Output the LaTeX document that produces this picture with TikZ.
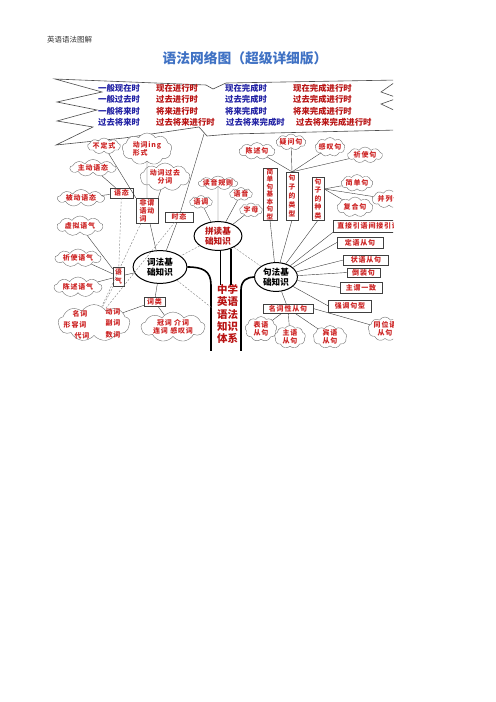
\documentclass[tikz,border=0pt]{standalone}
\usepackage{fontspec}
\usetikzlibrary{shapes.symbols,shapes.geometric,calc}
\newfontfamily\cjk{Noto Sans CJK SC}
\newfontfamily\cjksp{Noto Sans CJK SC}[LetterSpace=12]
\definecolor{lred}{RGB}{205,35,35}
\definecolor{tblue}{RGB}{35,35,165}
\definecolor{tred}{RGB}{185,20,20}
\definecolor{ttl}{RGB}{64,114,196}
\definecolor{lnc}{RGB}{60,60,60}
\tikzset{
  lbl/.style={font=\cjksp\bfseries\fontsize{7}{8.5}\selectfont, text=lred},
  cl/.style={cloud, cloud puffs=9, cloud puff arc=115, cloud ignores aspect, draw=black!55, line width=0.4pt, fill=white, inner sep=-1pt, lbl, align=center},
  bx/.style={rectangle, draw=black!75, line width=0.5pt, fill=white, inner sep=0pt, lbl, align=center},
  vbx/.style={bx, font=\cjk\bfseries\fontsize{6.6}{7.5}\selectfont},
  el/.style={ellipse, draw=black, line width=1pt, fill=white, inner sep=0pt, align=center, font=\cjk\bfseries\fontsize{8.6}{10}\selectfont},
  conn/.style={draw=lnc, line width=0.4pt},
  dconn/.style={draw=black!50, line width=0.4pt, dash pattern=on 2pt off 1.5pt},
  trunk/.style={draw=black, line width=1.6pt},
  tense/.style={anchor=west, inner sep=0pt, font=\cjk\bfseries\fontsize{8.4}{9}\selectfont},
  wd/.style={lbl, inner sep=0pt},
}
\begin{document}
\begin{tikzpicture}[x=1bp,y=-1bp]
\path[use as bounding box] (0,0) rectangle (496,702);
\node[anchor=west, inner sep=0pt, font=\cjk\fontsize{7.5}{8}\selectfont, text=black!80] (hdr) at (47,40) {英语语法图解};
\node[inner sep=0pt, font=\cjk\bfseries\fontsize{13.8}{15}\selectfont, text=ttl] (ttlnode) at (245,58) {语法网络图（超级详细版）};

\begin{scope}
\clip (52,74) rectangle (393,350);
% tense banner
\draw[black!70, line width=0.6pt, fill=white] (55,79) -- (206,85) -- (213,89) -- (226,83) -- (398,80) -- (381,92) -- (398,98) -- (381,104) -- (398,112) -- (398,130) -- (231,134) -- (207,136) -- (199,127) -- (124,138) -- (56,145) -- (93,127) -- (57,121) -- (97,110) -- (57,102) -- (102,92) -- cycle;
\coordinate (spike) at (204,134);
% tense texts
\node[tense, text=tblue] (t11) at (98,88) {一般现在时};
\node[tense, text=tblue] (t21) at (98,99.5) {一般过去时};
\node[tense, text=tblue] (t31) at (98,111) {一般将来时};
\node[tense, text=tblue] (t41) at (98,122.5) {过去将来时};
\node[tense, text=tred] (t12) at (156,88) {现在进行时};
\node[tense, text=tred] (t22) at (156,99.5) {过去进行时};
\node[tense, text=tred] (t32) at (156,111) {将来进行时};
\node[tense, text=tred] (t42) at (156,122.5) {过去将来进行时};
\node[tense, text=tblue] (t13) at (225,88) {现在完成时};
\node[tense, text=tblue] (t23) at (225,99.5) {过去完成时};
\node[tense, text=tblue] (t33) at (225,111) {将来完成时};
\node[tense, text=tblue] (t43) at (226,122.5) {过去将来完成时};
\node[tense, text=tred] (t14) at (293,88) {现在完成进行时};
\node[tense, text=tred] (t24) at (293,99.5) {过去完成进行时};
\node[tense, text=tred] (t34) at (293,111) {将来完成进行时};
\node[tense, text=tred] (t44) at (296,122.5) {过去将来完成进行时};

% trunk
\coordinate (lbot) at (211,352);
\coordinate (rbot) at (241,352);
\coordinate (ztop) at (227,285);

% left clouds
\node[cl, minimum width=33, minimum height=16] (c1) at (104,146) {不定式};
\node[cl, minimum width=50, minimum height=32, align=left] (c2) at (147,149) {动词ing\\形式};
\node[cl, minimum width=46, minimum height=17] (c3) at (93,168) {主动语态};
\node[cl, minimum width=50, minimum height=28] (c4) at (165,177) {动词过去\\分词};
\node[cl, minimum width=47, minimum height=17] (c5) at (81,198) {被动语态};
\node[cl, minimum width=46, minimum height=20] (c6) at (80,226) {虚拟语气};
\node[cl, minimum width=46, minimum height=18] (c7) at (78,258) {祈使语气};
\node[cl, minimum width=48, minimum height=20] (c8) at (78,287) {陈述语气};
\node[cl, minimum width=72, minimum height=37] (cw) at (94,323) {};
\node[wd] (w1) at (80,314) {名词};
\node[wd] (w2) at (113,312) {动词};
\node[wd] (w3) at (75,325) {形容词};
\node[wd] (w4) at (113,323) {副词};
\node[wd] (w5) at (82,336) {代词};
\node[wd] (w6) at (113,335) {数词};
\node[cl, minimum width=64, minimum height=30] (cw2) at (173,327) {冠词 介词\\连词 感叹词};

% left boxes
\node[bx, minimum width=23, minimum height=10] (byt) at (121.5,193) {语态};
\node[bx, minimum width=22, minimum height=25, align=left, font=\cjksp\bfseries\fontsize{7}{8}\selectfont] (bfw) at (147,210.5) {非谓\\语动\\词};
\node[bx, minimum width=28, minimum height=10] (bst) at (179,217) {时态};
\node[bx, minimum width=11, minimum height=19, font=\cjk\bfseries\fontsize{6.8}{8.5}\selectfont] (byq) at (118.5,276.5) {语\\气};
\node[bx, minimum width=21, minimum height=9] (bcl) at (154.5,301.5) {词类};

% ellipses
\node[el, minimum width=54, minimum height=33] (ecf) at (160,267) {词法基\\础知识};
\node[el, minimum width=48, minimum height=29, text=tred] (epd) at (218,236) {拼读基\\础知识};
\node[el, minimum width=43, minimum height=29] (ejf) at (276,277) {句法基\\础知识};

% middle clouds
\node[cl, minimum width=38, minimum height=14] (m1) at (218,183) {读音规则};
\node[cl, minimum width=23, minimum height=13] (m2) at (241,194) {语音};
\node[cl, minimum width=23, minimum height=13] (m3) at (201,202) {语调};
\node[cl, minimum width=23, minimum height=14] (m4) at (251,210) {字母};

% right clouds
\node[cl, minimum width=36, minimum height=17] (r1) at (257,151) {陈述句};
\node[cl, minimum width=30, minimum height=16] (r2) at (291,142) {疑问句};
\node[cl, minimum width=30, minimum height=19] (r3) at (330,147) {感叹句};
\node[cl, minimum width=35, minimum height=16] (r4) at (365,155) {祈使句};
\node[cl, minimum width=32, minimum height=17] (r5) at (357,183) {简单句};
\node[cl, minimum width=34, minimum height=18] (r6) at (389,199) {并列句};
\node[cl, minimum width=36, minimum height=20] (r7) at (355,207) {复合句};

% right boxes
\node[vbx, minimum width=14, minimum height=52] (v1) at (270,194) {简\\单\\句\\基\\本\\句\\型};
\node[vbx, minimum width=12, minimum height=48, font=\cjk\bfseries\fontsize{6.8}{9}\selectfont] (v2) at (292,196) {句\\子\\的\\类\\型};
\node[vbx, minimum width=12, minimum height=43, font=\cjk\bfseries\fontsize{6.8}{8.5}\selectfont] (v3) at (318,198.5) {句\\子\\的\\种\\类};
\node[bx, minimum width=70, minimum height=12, anchor=west] (b1) at (333,226) {直接引语间接引语};
\node[bx, minimum width=46, minimum height=11] (b2) at (360,242.5) {定语从句};
\node[bx, minimum width=45, minimum height=10] (b3) at (366,260) {状语从句};
\node[bx, minimum width=33, minimum height=9] (b4) at (363.5,272.5) {倒装句};
\node[bx, minimum width=42, minimum height=11] (b5) at (361,287.5) {主谓一致};
\node[bx, minimum width=43, minimum height=12] (b6) at (350,306) {强调句型};
\node[bx, minimum width=50, minimum height=9] (b7) at (288,308.5) {名词性从句};

% bottom clouds
\node[cl, minimum width=32, minimum height=25] (n1) at (261,329) {表语\\从句};
\node[cl, minimum width=31, minimum height=23] (n2) at (290,337) {主语\\从句};
\node[cl, minimum width=34, minimum height=23] (n3) at (330,337) {宾语\\从句};
\node[cl, minimum width=34, minimum height=24] (n4) at (385,329) {同位语\\从句};

% centre text
\node[inner sep=0pt, align=center, text=tred, font=\cjk\bfseries\fontsize{10.5}{12.2}\selectfont] (zx) at (227.5,314) {中学\\英语\\语法\\知识\\体系};

% trunk lines
\draw[trunk] (ecf.east) .. controls (203,267) and (211,271) .. (211,285) -- (lbot);
\draw[trunk] (ejf.west) .. controls (248,277) and (241,280) .. (241,290) -- (rbot);
\draw[trunk] (epd.-80) -- (epd.-80 |- ztop);
\draw[trunk] (epd.-45) -- (epd.-45 |- ztop);

% solid connectors
\draw[conn] (spike) -- (bst);
\draw[conn] (c1) -- (bfw.north west);
\draw[conn] (c2) -- (bfw.north);
\draw[conn] (c4) -- (bfw.north east);
\draw[conn] (c3) -- (byt);
\draw[conn] (c5) -- (byt);
\draw[conn] (c6) -- (byq);
\draw[conn] (c7) -- (byq);
\draw[conn] (c8) -- (byq);
\draw[conn] (ecf) -- (byq);
\draw[conn] (ecf) -- (bfw);
\draw[conn] (ecf) -- (bst);
\draw[conn] (ecf) -- (bcl);
\draw[conn] (bcl) -- (cw);
\draw[conn] (bcl) -- (cw2);
\draw[conn] (epd) -- (m1);
\draw[conn] (epd) -- (m2);
\draw[conn] (epd) -- (m3);
\draw[conn] (epd) -- (m4);
\draw[conn] (v2.north) -- (r1);
\draw[conn] (v2.north) -- (r2);
\draw[conn] (v2.north) -- (r3);
\draw[conn] (v2.north) -- (r4);
\coordinate (zl) at ($(v3.north east)!0.28!(v3.south east)$);
\draw[conn] (zl) -- (r5);
\draw[conn] (zl) -- (r6);
\draw[conn] (zl) -- (r7);
\draw[conn] (ejf) -- (v1.south);
\draw[conn] (ejf) -- (v2.south);
\draw[conn] (ejf) -- (v3.south);
\draw[conn] (ejf) -- (b1.south west);
\draw[conn] (ejf) -- (b2.west);
\draw[conn] (ejf) -- (b3.west);
\draw[conn] (ejf) -- (b4.west);
\draw[conn] (ejf) -- (b5.west);
\draw[conn] (ejf) -- (b6.west);
\draw[conn] (ejf) -- (b7);
\draw[conn] (b7) -- (n1);
\draw[conn] (b7) -- (n2);
\draw[conn] (b7) -- (n3);
\draw[conn] (b7.east) -- (n4);

% dashed connectors
\coordinate (dtr) at (212,308);
\draw[dconn] (byt) -- (byq);
\draw[dconn] (byq) -- (cw);
\draw[dconn] (bfw) -- (cw);
\draw[dconn] (bst) -- (cw);
\draw[dconn] (epd) -- (ecf);
\draw[dconn] (epd) -- (ejf);
\draw[dconn] (ecf) -- (dtr);
\end{scope}
\end{tikzpicture}
\end{document}
